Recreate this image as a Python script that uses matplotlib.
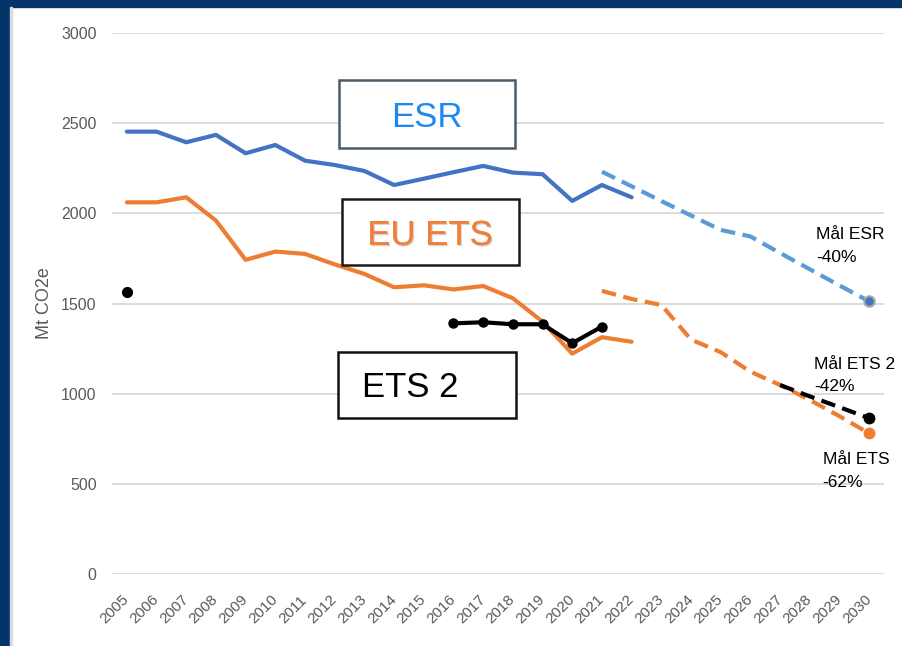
"""
Utslipp ESR / EU ETS / ETS 2 med mål for 2030.
"""
import numpy as np
import matplotlib
matplotlib.use("Agg")
import matplotlib.pyplot as plt
from matplotlib.patches import Rectangle
import matplotlib.patheffects as pe

plt.rcParams['font.family'] = ['Liberation Sans', 'DejaVu Sans']

years = list(range(2005, 2031))
hist_years = list(range(2005, 2023))
proj_years = list(range(2021, 2031))

esr_hist = [2453, 2453, 2394, 2435, 2333, 2379, 2292, 2268, 2235, 2157,
            2192, 2228, 2263, 2226, 2217, 2069, 2157, 2089]
esr_proj = [2231, 2150, 2068, 1988, 1908, 1872, 1780, 1690, 1600, 1512]

ets_hist = [2061, 2061, 2089, 1960, 1742, 1788, 1775, 1717, 1664, 1590,
            1601, 1578, 1597, 1529, 1399, 1222, 1313, 1288]
ets_proj = [1570, 1525, 1492, 1300, 1230, 1122, 1048, 965, 875, 780]

ets2_start_year = [2005]
ets2_start = [1566]
ets2_hist_years = list(range(2016, 2022))
ets2_hist = [1390, 1396, 1385, 1385, 1280, 1372]
ets2_proj_years = list(range(2027, 2031))
ets2_proj = [1048, 985, 925, 864]

yticks = [0, 500, 1000, 1500, 2000, 2500, 3000]

BLUE = '#4472C4'
LBLUE = '#5B9BD5'
ORANGE = '#ED7D31'
GRAY = '#595959'

fig = plt.figure(figsize=(9.02, 6.46), dpi=100)
ax = fig.add_axes([112 / 902, 72 / 646, 772 / 902, 541 / 646])

# navy frame
fig.patches.append(Rectangle((0, 0), 10 / 902, 1, transform=fig.transFigure,
                             color='#04346a', zorder=0))
fig.patches.append(Rectangle((0, 639 / 646), 1, 7 / 646, transform=fig.transFigure,
                             color='#04346a', zorder=0))
fig.patches.append(Rectangle((10 / 902, 0), 2 / 902, 639 / 646, transform=fig.transFigure,
                             color='#dcdcdc', zorder=0))

lw = 3
ax.plot(hist_years, esr_hist, color=BLUE, lw=lw, solid_capstyle='round', zorder=3)
ax.plot(proj_years, esr_proj, color=LBLUE, lw=lw, dashes=(3.5, 1.8), zorder=3)
ax.plot(proj_years[-1:], esr_proj[-1:], 'o', ms=7.5, color=BLUE,
        mec='#a6a6a6', mew=1.5, zorder=5)

ax.plot(hist_years, ets_hist, color=ORANGE, lw=lw, solid_capstyle='round', zorder=3)
ax.plot(proj_years, ets_proj, color=ORANGE, lw=lw, dashes=(3.5, 1.8), zorder=3)
ax.plot(proj_years[-1:], ets_proj[-1:], 'o', ms=7.5, color=ORANGE, zorder=5)

ax.plot(ets2_start_year, ets2_start, 'o', ms=7, color='black', zorder=4)
ax.plot(ets2_hist_years, ets2_hist, '-o', ms=6.5, color='black', lw=lw, zorder=4)
ax.plot(ets2_proj_years, ets2_proj, color='black', lw=lw, dashes=(3.5, 1.8), zorder=4)
ax.plot(ets2_proj_years[-1:], ets2_proj[-1:], 'o', ms=7.5, color='black', zorder=5)

ax.set_xlim(2004.5, 2030.5)
ax.set_ylim(0, 3000)
ax.set_yticks(yticks)
ax.set_xticks(years)
ax.set_xticklabels([str(y) for y in years], rotation=45, ha='right', va='center',
                   rotation_mode='anchor')
ax.tick_params(axis='both', length=0, colors=GRAY)
ax.tick_params(axis='y', pad=11, labelsize=11.5)
ax.tick_params(axis='x', pad=17, labelsize=11)
ax.yaxis.grid(True, color='#d9d9d9', lw=1.3, zorder=0)
ax.set_axisbelow(True)
for s in ax.spines.values():
    s.set_visible(False)

ax.set_ylabel('Mt CO2e', color=GRAY, fontsize=13)
ax.yaxis.set_label_coords((53 - 112) / 772, 0.5)

# boxes with series names
boxes = [
    ((2012.16, 2363), 5.91, 377, '#4d5b66', 'ESR', '#1e88f0', (2015.11, 2481)),
    ((2012.25, 1714), 5.96, 366, '#1a1a1a', 'EU ETS', '#F07F3C', (2015.21, 1825)),
    ((2012.11, 865), 5.99, 366, '#111111', 'ETS 2', 'black', (2014.53, 983)),
]
for (x0, y0), w, h, ec, label, tc, (tx, ty) in boxes:
    ax.add_patch(Rectangle((x0, y0), w, h, facecolor='white', edgecolor=ec,
                           lw=1.8, zorder=6))
    t = ax.text(tx, ty, label, color=tc, fontsize=25, ha='center', va='baseline',
                zorder=7)
    if label == 'EU ETS':
        t.set_path_effects([pe.withSimplePatchShadow(offset=(1, -1), alpha=0.2),
                            pe.Normal()])

# target annotations
notes = [
    (2028.22, 1856, 'Mål ESR'), (2028.22, 1732, '-40%'),
    (2028.15, 1135, 'Mål ETS 2'), (2028.15, 1015, '-42%'),
    (2028.43, 608, 'Mål ETS'), (2028.43, 484, '-62%'),
]
for x, y, s in notes:
    ax.text(x, y, s, fontsize=12.5, color='black', ha='left', va='baseline', zorder=7)

plt.savefig('out.png', dpi=100)
plt.close()
